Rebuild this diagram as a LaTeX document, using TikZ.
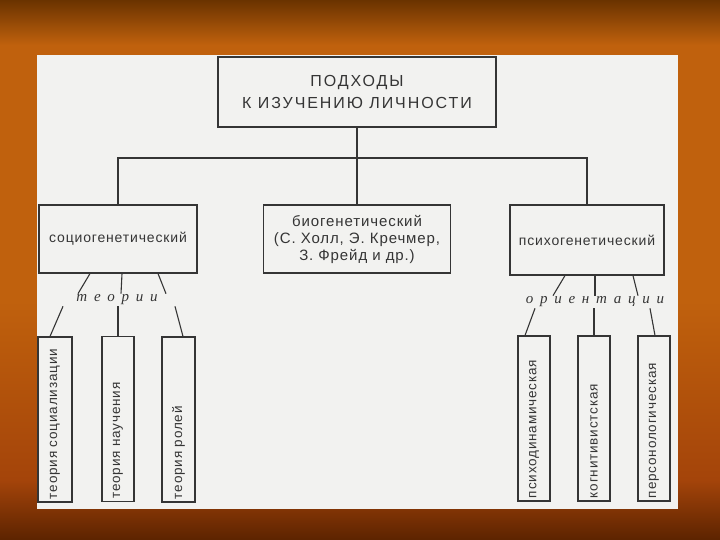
\documentclass[tikz,border=0pt]{standalone}
\usepackage{fontspec}
\setmainfont[LetterSpace=6]{Liberation Sans}
\newfontfamily\grpfont[LetterSpace=45]{Liberation Serif}
\definecolor{ink}{HTML}{353535}
\definecolor{paper}{HTML}{F2F2F0}
\definecolor{bgtop}{HTML}{6A3300}
\definecolor{bgmid}{HTML}{C0610D}
\definecolor{bglow}{HTML}{A4440A}
\definecolor{bgbot}{HTML}{5C2300}
\begin{document}
\begin{tikzpicture}[x=1pt, y=-1pt]
        \tikzset{
            box/.style={draw=ink, line width=1.1pt, fill=paper, text=ink, inner sep=2pt, align=center},
            mid/.style={box, minimum height=68pt, font=\fontsize{14}{17}\selectfont},
            leaf/.style={box, rotate=90, minimum width=165pt, minimum height=33pt, text width=159pt, inner xsep=3pt, align=left, font=\fontsize{13.5}{16}\selectfont},
            grp/.style={text=ink, inner sep=1pt, font=\grpfont\itshape\fontsize{15}{17}\selectfont},
            link/.style={draw=ink, line width=1.1pt}
        }

        \shade[top color=bgtop, bottom color=bgmid] (0,0) rectangle (720,45);
        \fill[bgmid] (0,45) rectangle (720,300);
        \shade[top color=bgmid, bottom color=bglow] (0,300) rectangle (720,480);
        \shade[top color=bglow, bottom color=bgbot] (0,480) rectangle (720,540);
        \fill[paper] (37,55) rectangle (678,509);

        \node[box, minimum width=278pt, minimum height=70pt, font=\fontsize{16}{22}\selectfont\addfontfeature{LetterSpace=12}] (top) at (357,92) {ПОДХОДЫ\\К ИЗУЧЕНИЮ ЛИЧНОСТИ};
        \coordinate (bus) at (357,158);

        \node[mid, minimum width=158pt] (socio) at (118,239) {социогенетический};
        \node[mid, minimum width=187pt, font=\fontsize{15}{17}\selectfont] (bio) at (357,239) {биогенетический\\(С. Холл, Э. Кречмер,\\З. Фрейд и др.)};
        \node[mid, minimum width=154pt, minimum height=70pt] (psycho) at (587,240) {психогенетический};

        \node[grp] (teorii) at (117,300) {теории};
        \node[grp] (orient) at (595,302) {ориентации};

        \node[leaf, minimum height=34pt] (s1) at (55,419.5) {теория социализации};
        \node[leaf, minimum height=32pt] (s2) at (118,419) {теория научения};
        \node[leaf] (s3) at (178.5,419.5) {теория ролей};

        \node[leaf, minimum width=163pt, minimum height=32pt] (p1) at (534,418.5) {психодинамическая};
        \node[leaf, minimum width=163pt, minimum height=32pt] (p2) at (594,418.5) {когнитивистская};
        \node[leaf, minimum width=163pt, minimum height=32pt] (p3) at (654,418.5) {персонологическая};

        \draw[link] (top) -- (bus);
        \draw[link] (socio.north) |- (bus) -| (psycho.north);
        \draw[link] (bus) -- (bio.north);

        \draw[link] ([xshift=-28pt]socio.south) -- ([xshift=-39pt]teorii.north);
        \draw[link] ([xshift=4pt]socio.south) -- ([xshift=4pt]teorii.north);
        \draw[link] ([xshift=40pt]socio.south) -- ([xshift=49pt]teorii.north);
        \draw[link] ([xshift=-54pt]teorii.south) -- ([xshift=-5pt]s1.east);
        \draw[link] ([xshift=1pt]teorii.south) -- (s2.east);
        \draw[link] ([xshift=58pt]teorii.south) -- ([xshift=4.5pt]s3.east);

        \draw[link] ([xshift=-22pt]psycho.south) -- ([xshift=-42pt]orient.north);
        \draw[link] ([xshift=8pt]psycho.south) -- (orient.north);
        \draw[link] ([xshift=46pt]psycho.south) -- ([xshift=43pt]orient.north);
        \draw[link] ([xshift=-60pt]orient.south) -- ([xshift=-9pt]p1.east);
        \draw[link] ([xshift=-1pt]orient.south) -- (p2.east);
        \draw[link] ([xshift=55pt]orient.south) -- ([xshift=1pt]p3.east);
\end{tikzpicture}
\end{document}
